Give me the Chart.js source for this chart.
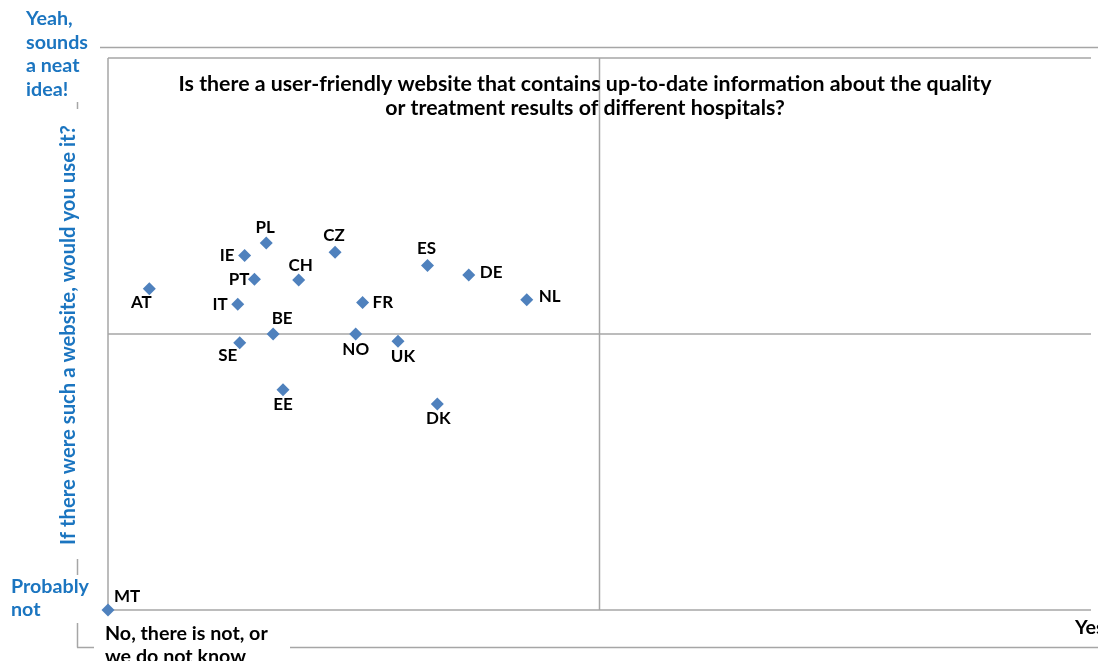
<!DOCTYPE html>
<html>
<head>
<meta charset="utf-8">
<script src="https://cdn.jsdelivr.net/npm/chart.js@4.4.1/dist/chart.umd.min.js"></script>
<style>
html,body{margin:0;padding:0;background:#fff;}
#wrap{width:1098px;height:661px;position:relative;}
</style>
</head>
<body>
<div id="wrap"><canvas id="c"></canvas></div>
<script>
// ---- data ----
const countries = ['AT','PL','IE','CZ','ES','CH','PT','IT','FR','BE','NO','SE','UK','EE','DK','DE','NL','MT'];
const websiteExists = [4.2,16.1,13.9,23.1,32.5,19.4,14.9,13.2,25.9,16.8,25.2,13.4,29.5,17.8,33.5,36.7,42.6,0];
const wouldUse = [58.2,66.5,64.2,64.8,62.4,59.8,59.9,55.4,55.7,50.0,50.0,48.4,48.7,39.9,37.3,60.7,56.2,0];
const titleLines = ['Is there a user-friendly website that contains up-to-date information about the quality','or treatment results of different hospitals?'];
const yAxisTitle = 'If there were such a website, would you use it?';
const yTopLabel = ['Yeah,','sounds','a neat','idea!'];
const yBottomLabel = ['Probably','not'];
const xLeftLabel = ['No, there is not, or','we do not know'];
const xRightLabel = ['Yes'];

// label placement (style): [dx, dy, align]
const labelPlace = {
  AT:[-8,14,'center'], PL:[-1,-15,'center'], IE:[-10,0,'right'], CZ:[-1,-17,'center'],
  ES:[-1,-17,'center'], CH:[2,-14,'center'], PT:[-5,0,'right'], IT:[-10,0,'right'],
  FR:[10,0,'left'], BE:[9,-15,'center'], NO:[0,16,'center'], SE:[-12,13,'center'],
  UK:[5,15,'center'], EE:[0,15,'center'], DK:[1,14,'center'], DE:[11,-2,'left'],
  NL:[12,-3,'left'], MT:[6,-13,'left']
};

const BLUE = '#1B75C0';
const GRID = '#A6A6A6';
const FONT = 'Lato, "Open Sans", sans-serif';

function fitFont(ctx, text, target, weight) {
  ctx.font = weight + ' 20px ' + FONT;
  const w = ctx.measureText(text).width;
  return 20 * target / w;
}

const decor = {
  id: 'decor',
  beforeDatasetsDraw(chart) {
    const ctx = chart.ctx, x = chart.scales.x, y = chart.scales.y;
    const L = x.getPixelForValue(0), R = x.getPixelForValue(100);
    const T = y.getPixelForValue(100), B = y.getPixelForValue(0);
    const mx = x.getPixelForValue(50), my = y.getPixelForValue(50);
    ctx.save();
    ctx.strokeStyle = GRID; ctx.lineWidth = 1.5;
    ctx.beginPath();
    // outer frame
    ctx.moveTo(77, 47.5); ctx.lineTo(1098, 47.5);
    ctx.moveTo(77.5, 47); ctx.lineTo(77.5, 647.5);
    ctx.moveTo(77, 647.5); ctx.lineTo(1098, 647.5);
    // inner plot
    ctx.moveTo(L, T); ctx.lineTo(R, T);
    ctx.moveTo(L, T); ctx.lineTo(L, B);
    ctx.moveTo(L, B); ctx.lineTo(R, B);
    ctx.moveTo(mx, T); ctx.lineTo(mx, B);
    ctx.moveTo(L, my); ctx.lineTo(R, my);
    ctx.stroke();
    // white cover boxes for outside labels
    ctx.fillStyle = '#fff';
    ctx.fillRect(20, 5, 80, 97);
    ctx.fillRect(55, 109, 30, 450);
    ctx.fillRect(5, 575, 98, 48);
    ctx.fillRect(94, 622, 196, 39);
    ctx.restore();
  },
  afterDatasetsDraw(chart) {
    const ctx = chart.ctx;
    ctx.save();
    // point labels
    ctx.fillStyle = '#000';
    ctx.font = 'bold 17px ' + FONT;
    ctx.textBaseline = 'middle';
    const meta = chart.getDatasetMeta(0);
    meta.data.forEach((pt, i) => {
      const c = countries[i], p = labelPlace[c];
      ctx.textAlign = p[2];
      ctx.fillText(c, pt.x + p[0], pt.y + p[1]);
    });
    // title
    const ts = fitFont(ctx, titleLines[0], 813, 'bold');
    ctx.font = 'bold ' + ts.toFixed(2) + 'px ' + FONT;
    ctx.textAlign = 'center';
    ctx.fillText(titleLines[0], 585, 84);
    ctx.fillText(titleLines[1], 585, 108);
    // y axis title
    ctx.fillStyle = BLUE;
    const ys = fitFont(ctx, yAxisTitle, 420, 'bold');
    ctx.font = 'bold ' + ys.toFixed(2) + 'px ' + FONT;
    ctx.translate(68, 335); ctx.rotate(-Math.PI/2);
    ctx.fillText(yAxisTitle, 0, 0);
    ctx.setTransform(chart.currentDevicePixelRatio,0,0,chart.currentDevicePixelRatio,0,0);
    // corner labels
    const cs = fitFont(ctx, 'Probably', 78, 'bold');
    ctx.font = 'bold ' + cs.toFixed(2) + 'px ' + FONT;
    ctx.textAlign = 'left';
    yTopLabel.forEach((s, i) => ctx.fillText(s, 26, 19 + i * 23.4));
    yBottomLabel.forEach((s, i) => ctx.fillText(s, 11, 587 + i * 23));
    ctx.fillStyle = '#000';
    xLeftLabel.forEach((s, i) => ctx.fillText(s, 105, 634 + i * 22.5));
    xRightLabel.forEach((s, i) => ctx.fillText(s, 1075, 628 + i * 22.5));
    ctx.restore();
  }
};

new Chart(document.getElementById('c'), {
  type: 'scatter',
  data: {
    datasets: [{
      data: countries.map((c, i) => ({x: websiteExists[i], y: wouldUse[i]})),
      pointStyle: 'rectRot',
      pointRadius: 6.5,
      backgroundColor: '#4F81BD',
      borderColor: '#4F81BD',
      borderWidth: 0,
      clip: false
    }]
  },
  options: {
    responsive: true,
    maintainAspectRatio: false,
    animation: false,
    events: [],
    layout: { padding: { left: 108, top: 58, right: 7, bottom: 51 } },
    plugins: { legend: { display: false }, tooltip: { enabled: false } },
    scales: {
      x: { type: 'linear', min: 0, max: 100, display: false },
      y: { type: 'linear', min: 0, max: 100, display: false }
    }
  },
  plugins: [decor]
});
</script>
</body>
</html>
